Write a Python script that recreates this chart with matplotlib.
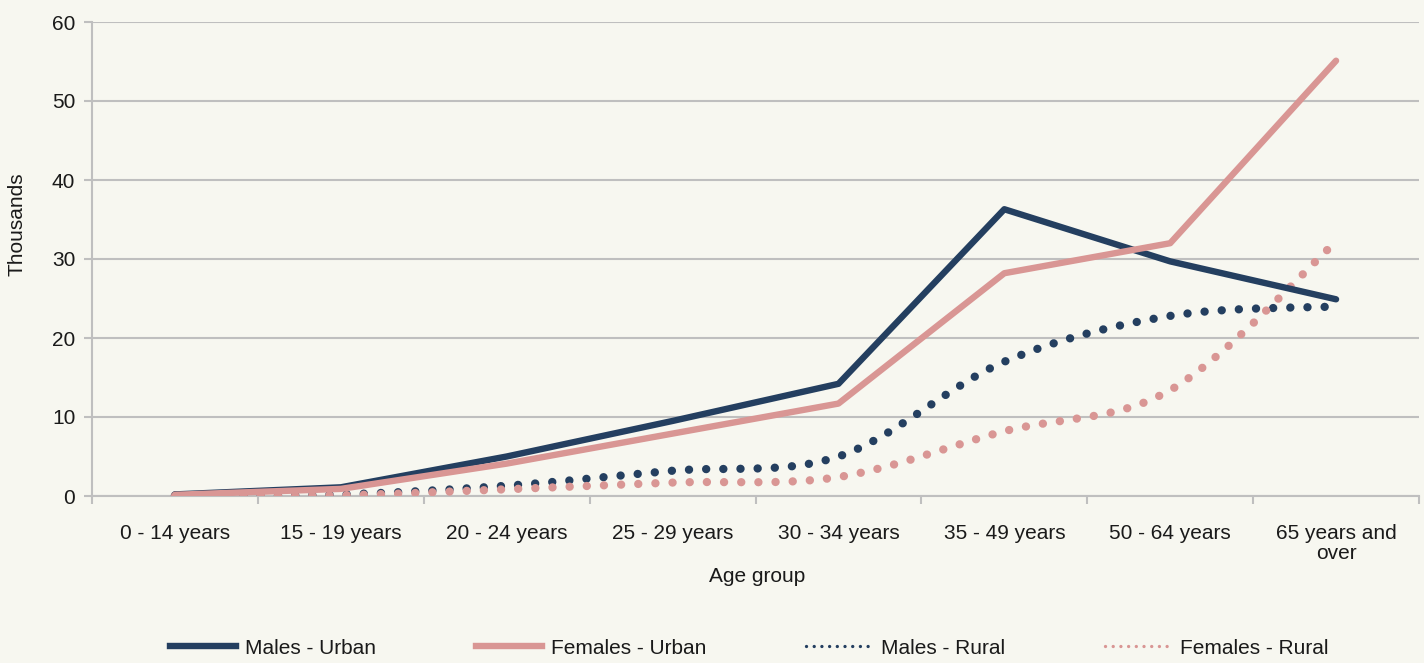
import numpy as np
import matplotlib
matplotlib.use("Agg")
import matplotlib.pyplot as plt
from matplotlib.path import Path
from matplotlib.patches import PathPatch
from matplotlib.lines import Line2D

# data (thousands)
age_groups = ["0 - 14 years", "15 - 19 years", "20 - 24 years", "25 - 29 years",
              "30 - 34 years", "35 - 49 years", "50 - 64 years", "65 years and\nover"]
males_urban = [0.2, 1.1, 5.0, 9.5, 14.2, 36.3, 29.7, 24.9]
females_urban = [0.15, 0.9, 4.1, 7.9, 11.7, 28.2, 32.0, 55.1]
males_rural = [0.05, 0.2, 1.3, 3.2, 5.0, 17.0, 22.8, 24.0]
females_rural = [0.05, 0.1, 0.85, 1.7, 2.4, 8.2, 13.4, 32.2]

navy = "#243F60"
pink = "#D99694"
bg = "#F7F7F0"
grid = "#BFBFBF"
txt = "#1A1A1A"

plt.rcParams["font.family"] = ["Liberation Sans", "DejaVu Sans"]
FS = 15


def smooth_path(xs, ys):
  # excel-style smoothed line: cubic bezier through the points
  p = np.column_stack([xs, ys]).astype(float)
  n = len(p)
  verts = [p[0]]
  codes = [Path.MOVETO]
  for i in range(n - 1):
    p0 = p[i - 1] if i > 0 else p[i]
    p3 = p[i + 2] if i + 2 < n else p[i + 1]
    c1 = p[i] + (p[i + 1] - p0) / 6.0
    c2 = p[i + 1] - (p3 - p[i]) / 6.0
    verts += [c1, c2, p[i + 1]]
    codes += [Path.CURVE4] * 3
  return Path(verts, codes)


fig = plt.figure(figsize=(14.24, 6.63), dpi=100, facecolor=bg)
ax = fig.add_axes([92 / 1424, 1 - 496 / 663, (1419 - 92) / 1424, (496 - 22) / 663])
ax.set_facecolor(bg)

x = np.arange(len(age_groups))
dots = (0, (0.01, 2.05))

for vals, col in [(males_rural, navy), (females_rural, pink)]:
  patch = PathPatch(smooth_path(x, vals), fill=False, edgecolor=col, lw=6.0,
                    linestyle=dots, capstyle="round", zorder=3)
  ax.add_patch(patch)

ax.plot(x, males_urban, color=navy, lw=4.6, solid_joinstyle="round", solid_capstyle="round", zorder=4)
ax.plot(x, females_urban, color=pink, lw=4.6, solid_joinstyle="round", solid_capstyle="round", zorder=4)

ax.set_xlim(-0.5, len(age_groups) - 0.5)
ax.set_ylim(0, 60)
ax.set_yticks(range(0, 61, 10))
ax.yaxis.grid(True, color=grid, lw=1.5)
ax.set_axisbelow(True)

ax.set_xticks(x)
ax.set_xticklabels(age_groups, fontsize=FS, color=txt, linespacing=1.05)
ax.set_xticks(np.arange(-0.5, len(age_groups)), minor=True)
ax.tick_params(axis="x", which="major", length=0, pad=20)
ax.tick_params(axis="x", which="minor", length=6, width=1.5, color=grid, direction="out")
ax.tick_params(axis="y", length=6, width=1.5, color=grid, labelsize=FS, labelcolor=txt, pad=6)

for s in ["top", "right"]:
  ax.spines[s].set_visible(False)
for s in ["left", "bottom"]:
  ax.spines[s].set_color(grid)
  ax.spines[s].set_linewidth(1.5)

fig.text(17 / 1424, 1 - 224 / 663, "Thousands", rotation=90, ha="center", va="center",
         fontsize=FS, color=txt)
fig.text(757 / 1424, 1 - 577 / 663, "Age group", ha="center", va="center", fontsize=FS, color=txt)

handles = [
  Line2D([], [], color=navy, lw=4.6),
  Line2D([], [], color=pink, lw=4.6),
  Line2D([], [], color=navy, lw=2.4, linestyle=(0, (0.01, 2.3)), dash_capstyle="round"),
  Line2D([], [], color=pink, lw=2.4, linestyle=(0, (0.01, 2.3)), dash_capstyle="round"),
]
labels = ["Males - Urban", "Females - Urban", "Males - Rural", "Females - Rural"]
leg = fig.legend(handles, labels, loc="center", bbox_to_anchor=(749 / 1424, 1 - 648 / 663),
                 ncol=4, frameon=False, fontsize=FS, handlelength=3.2, handletextpad=0.4,
                 columnspacing=4.8, labelcolor=txt)

fig.savefig("out.png", dpi=100, facecolor=bg)
